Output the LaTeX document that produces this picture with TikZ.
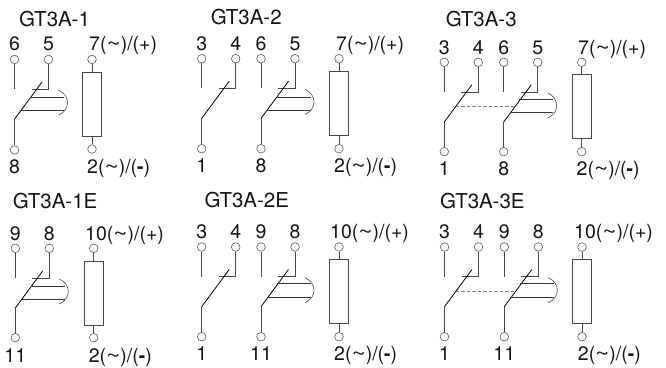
\documentclass[tikz,border=0pt]{standalone}
\usepackage{fontspec}
\usepackage{graphicx}
\setmainfont{TeX Gyre Heros}
\usetikzlibrary{calc}
\tikzset{
  x=1pt,y=-1pt,
  wire/.style={draw=black!72,line width=0.8pt},
  blade/.style={draw=black,line width=0.8pt},
  armline/.style={draw=black!78,line width=#1},
  trip/.style={draw=black!70,line width=0.6pt},
  link/.style={draw=black!50,line width=0.8pt,dash pattern=on 3.5pt off 2pt},
  pin/.style={circle,draw=black!65,line width=0.6pt,fill=white,minimum size=8.6pt,inner sep=0pt},
  coilbox/.style={rectangle,draw=black!72,line width=0.8pt,minimum width=18.6pt,minimum height=64pt,inner sep=0pt},
  lab/.style={font=\fontsize{19.5}{20}\selectfont,inner sep=0pt,text=black!92},
  ttl/.style={font=\fontsize{20.5}{21}\selectfont,inner sep=0pt,text=black!92},
}
\newcommand{\tld}{\scalebox{1.25}[1]{\symbol{"7E}}}
\newcommand{\mns}{\textbf{-}}
\newcommand{\simplecontact}[9]{
  \node[pin] (#1a) at (#2,#3) {};
  \node[pin] (#1b) at (#2+34,#3) {};
  \node[pin] (#1c) at (#2,#4) {};
  \node[lab,anchor=base] (#1la) at (#2,#8) {#5};
  \node[lab,anchor=base] (#1lb) at (#2+34,#8) {#6};
  \node[lab,anchor=base] (#1lc) at (#2,#9) {#7};
  \coordinate (#1ae) at (#2,#3+29.7);
  \coordinate (#1be) at (#2+34,#3+29.7);
  \coordinate (#1bs) at (#2+17,#3+29.7);
  \coordinate (#1p) at (#2,#3+59.7);
  \coordinate (#1t) at (#2+27.5,#3+22.5);
  \draw[wire] (#1a) -- (#1ae);
  \draw[wire] (#1b) -- (#1be) -- (#1bs);
  \draw[wire] (#1c) -- (#1p);
  \draw[blade] (#1p) -- (#1t);
}
% #1 prefix, #2 xl, #3 y top pin, #4 upper line offset, #5 lower line offset, #6 line width
\newcommand{\armature}[6]{
  \coordinate (#1u1) at (#2+15.6,#3+#4);
  \coordinate (#1u2) at (#2+49.5,#3+#4);
  \coordinate (#1d1) at (#2+6.1,#3+#5);
  \coordinate (#1d2) at (#2+49.5,#3+#5);
  \coordinate (#1r1) at (#2+44,#3+30.7);
  \coordinate (#1r2) at (#2+44,#3+55.7);
  \draw[armline=#6] (#1u1) -- (#1u2);
  \draw[armline=#6] (#1d1) -- (#1d2);
  \draw[trip] (#1r1) .. controls ($(#1r1)+(12,5)$) and ($(#1r2)+(12,-5)$) .. (#1r2);
}
\newcommand{\coil}[5]{
  \node[coilbox] (#1coil) at (#2,#5) {};
  \node[pin] (#1top) at (#2,#3) {};
  \node[pin] (#1bot) at (#2,#4) {};
  \draw[wire] (#1top) -- (#1coil);
  \draw[wire] (#1bot) -- (#1coil);
}
\begin{document}
\begin{tikzpicture}
\useasboundingbox (0,0) rectangle (666,367);
%---- GT3A-1
\node[ttl,anchor=base west] (t1) at (19,26.5) {GT3A-1};
\simplecontact{Aa}{14.5}{59.5}{150}{6}{5}{8}{50.7}{173.5}
\armature{Aa}{14.5}{59.5}{38}{51}{0.9pt}
\coil{Aa}{92}{59.5}{149}{104}
\node[lab,anchor=base west] (A7) at (89,50.7) {7(\tld)/(+)};
\node[lab,anchor=base west] (A2) at (87,173.5) {2(\tld)/(\mns)};
%---- GT3A-2
\node[ttl,anchor=base west] (t2) at (210.7,24.8) {GT3A-2};
\simplecontact{Ba}{201.7}{58.7}{148.7}{3}{4}{1}{50}{172}
\simplecontact{Bb}{261}{58.7}{148.7}{6}{5}{8}{50}{172}
\armature{Bb}{261}{58.7}{38.3}{51.3}{0.9pt}
\coil{Bb}{339}{58.7}{148.7}{103.2}
\node[lab,anchor=base west] (B7) at (336,50) {7(\tld)/(+)};
\node[lab,anchor=base west] (B2) at (334,172) {2(\tld)/(\mns)};
%---- GT3A-3
\node[ttl,anchor=base west] (t3) at (445.7,26.5) {GT3A-3};
\simplecontact{Ca}{444.3}{62.3}{151.7}{3}{4}{1}{54}{175.5}
\simplecontact{Cb}{503.7}{62.3}{151.7}{6}{5}{8}{54}{175.5}
\armature{Cb}{503.7}{62.3}{37.2}{50.2}{1.5pt}
\draw[link] (455.5,106.7) coordinate (Cd1) -- (514.9,106.7) coordinate (Cd2);
\coil{Cb}{581.7}{62.3}{151.7}{106.3}
\node[lab,anchor=base west] (C7) at (578,54) {7(\tld)/(+)};
\node[lab,anchor=base west] (C2) at (576.5,175.5) {2(\tld)/(\mns)};
%---- GT3A-1E
\node[ttl,anchor=base west] (t4) at (12.7,208.2) {GT3A-1E};
\simplecontact{Da}{15.3}{248.3}{337.7}{9}{8}{11}{240.5}{362.5}
\armature{Da}{15.3}{248.3}{38.2}{51.2}{0.9pt}
\coil{Da}{93.7}{248.3}{337.7}{293.3}
\node[lab,anchor=base west] (D7) at (85,240.5) {10(\tld)/(+)};
\node[lab,anchor=base west] (D2) at (88.7,362.5) {2(\tld)/(\mns)};
%---- GT3A-2E
\node[ttl,anchor=base west] (t5) at (204.3,207.5) {GT3A-2E};
\simplecontact{Ea}{201.7}{247}{336.7}{3}{4}{1}{238.8}{360.5}
\simplecontact{Eb}{261}{247}{336.7}{9}{8}{11}{238.8}{360.5}
\armature{Eb}{261}{247}{36.5}{50.5}{1.2pt}
\coil{Eb}{339}{247}{336.7}{291.3}
\node[lab,anchor=base west] (E7) at (330,238.8) {10(\tld)/(+)};
\node[lab,anchor=base west] (E2) at (334,360.5) {2(\tld)/(\mns)};
%---- GT3A-3E
\node[ttl,anchor=base west] (t6) at (440,208.2) {GT3A-3E};
\simplecontact{Fa}{444.5}{247}{336.7}{3}{4}{1}{238.8}{360.5}
\simplecontact{Fb}{504.3}{247}{336.7}{9}{8}{11}{238.8}{360.5}
\armature{Fb}{504.3}{247}{36.5}{50.5}{1.5pt}
\draw[link] (455.7,291.3) coordinate (Fd1) -- (515.5,291.3) coordinate (Fd2);
\coil{Fb}{582}{247}{336.7}{291.3}
\node[lab,anchor=base west] (F7) at (574,238.8) {10(\tld)/(+)};
\node[lab,anchor=base west] (F2) at (577.7,360.5) {2(\tld)/(\mns)};
\end{tikzpicture}
\end{document}
